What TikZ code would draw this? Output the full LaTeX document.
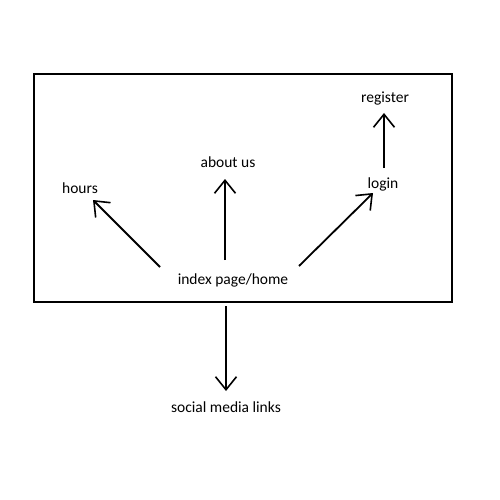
\documentclass[tikz,border=0pt]{standalone}
\usepackage{fontspec}
\setmainfont{Carlito}
\usetikzlibrary{arrows.meta}
\begin{document}
\begin{tikzpicture}[x=1pt,y=-1pt,
  lbl/.style={font=\fontsize{15.5}{18}\selectfont, inner sep=0pt, text=black},
  arr/.style={line width=1.8pt, -{Straight Barb[length=13pt,width=21pt,line width=1.6pt]}}]
\useasboundingbox (0,0) rectangle (500,500);
\fill[white] (0,0) rectangle (500,500);
\draw[line width=2.6pt] (34,74) rectangle (452,302);
\node[lbl] (index) at (233,280) {index page/home};
\node[lbl] (hours) at (80,188) {hours};
\node[lbl] (about) at (228,162) {about us};
\node[lbl] (login) at (383,184) {login};
\node[lbl] (register) at (385,99) {register};
\node[lbl] (social) at (226,407) {social media links};
\coordinate (h0) at (160,267); \coordinate (h1) at (93,200);
\coordinate (a0) at (225,260); \coordinate (a1) at (225,179);
\coordinate (l0) at (299,266); \coordinate (l1) at (373,193);
\coordinate (r0) at (384,168); \coordinate (r1) at (384,113);
\coordinate (s0) at (226,306); \coordinate (s1) at (226,391);
\draw[arr] (h0) -- (h1);
\draw[arr] (a0) -- (a1);
\draw[arr] (l0) -- (l1);
\draw[arr] (r0) -- (r1);
\draw[arr] (s0) -- (s1);
\end{tikzpicture}
\end{document}
